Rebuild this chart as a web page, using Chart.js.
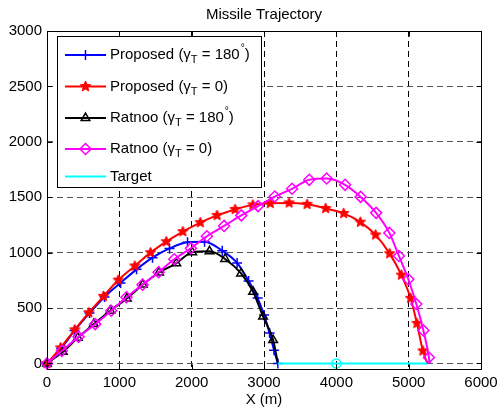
<!DOCTYPE html>
<html>
<head>
<meta charset="utf-8">
<script src="https://cdn.jsdelivr.net/npm/chart.js@4.4.0/dist/chart.umd.min.js"></script>
<style>
  body { margin: 0; background: #fff; }
  canvas { display: block; }
</style>
</head>
<body>
<canvas id="trajectory" width="498" height="413"></canvas>
<script>
// values, in metres
const xTicks = [0, 1000, 2000, 3000, 4000, 5000, 6000];
const yTicks = [0, 500, 1000, 1500, 2000, 2500, 3000];

const proposed180X = [0, 196, 380, 588, 795, 1017, 1238, 1459, 1694, 1943, 2178, 2423, 2628, 2787, 2912, 3001, 3077, 3139, 3192];
const proposed180Y = [0, 136, 297, 455, 600, 727, 849, 955, 1038, 1094, 1098, 1017, 907, 744, 590, 437, 274, 120, 0];

const proposed0X = [0, 187, 384, 578, 781, 985, 1214, 1431, 1649, 1878, 2119, 2351, 2600, 2846, 3087, 3347, 3596, 3852, 4101, 4332, 4543, 4737, 4899, 5027, 5114, 5197, 5258];
const proposed0Y = [0, 141, 304, 458, 606, 753, 880, 1000, 1099, 1190, 1271, 1336, 1390, 1431, 1445, 1449, 1436, 1399, 1354, 1275, 1160, 991, 798, 588, 362, 114, 0];

const ratnoo180X = [0, 219, 426, 647, 874, 1104, 1325, 1549, 1787, 2008, 2247, 2462, 2683, 2849, 2987, 3126, 3192];
const ratnoo180Y = [0, 105, 232, 355, 476, 586, 712, 821, 904, 1003, 1012, 943, 812, 647, 423, 211, 0];

const ratnoo0X = [0, 205, 436, 667, 888, 1099, 1321, 1542, 1759, 1989, 2210, 2448, 2686, 2918, 3149, 3388, 3626, 3866, 4121, 4336, 4550, 4733, 4865, 4995, 5106, 5203, 5280, 5290];
const ratnoo0Y = [0, 114, 240, 355, 476, 597, 711, 823, 940, 1040, 1148, 1241, 1336, 1420, 1506, 1576, 1657, 1669, 1612, 1503, 1359, 1178, 970, 760, 536, 298, 54, 0];

const targetX = [3192, 4000, 5258];
const targetY = [0, 0, 0];

const FONT = "'Liberation Sans', Arial, Helvetica, sans-serif";

function pts(xs, ys) {
  return xs.map((x, i) => ({ x: x, y: ys[i] }));
}

// filled pentagram, like matlab's 'p' marker
function makeStar(size, color) {
  const c = document.createElement('canvas');
  c.width = c.height = size;
  const g = c.getContext('2d');
  const R = size / 2 - 1, r = R * 0.45;
  g.beginPath();
  for (let i = 0; i < 10; i++) {
    const a = -Math.PI / 2 + i * Math.PI / 5;
    const d = i % 2 ? r : R;
    g.lineTo(size / 2 + d * Math.cos(a), size / 2 + d * Math.sin(a));
  }
  g.closePath();
  g.fillStyle = color;
  g.fill();
  g.strokeStyle = color;
  g.lineWidth = 1;
  g.stroke();
  return c;
}
const star = makeStar(13, '#ff0000');

// no marker on the last (impact) sample
const lastless = ctx => ctx.dataIndex === ctx.dataset.data.length - 1 ? 0 : 5;

const datasets = [
  {
    label: 'Proposed 180',
    data: pts(proposed180X, proposed180Y),
    borderColor: '#0000ff',
    backgroundColor: '#0000ff',
    pointStyle: 'cross',
    pointRadius: 5,
    order: 5
  },
  {
    label: 'Proposed 0',
    data: pts(proposed0X, proposed0Y),
    borderColor: '#ff0000',
    backgroundColor: '#ff0000',
    pointStyle: star,
    pointRadius: lastless,
    order: 4
  },
  {
    label: 'Ratnoo 180',
    data: pts(ratnoo180X, ratnoo180Y),
    borderColor: '#000000',
    backgroundColor: 'rgba(0,0,0,0)',
    pointStyle: 'triangle',
    pointRadius: lastless,
    order: 3
  },
  {
    label: 'Ratnoo 0',
    data: pts(ratnoo0X, ratnoo0Y),
    borderColor: '#ff00ff',
    backgroundColor: 'rgba(0,0,0,0)',
    pointStyle: 'rectRot',
    pointRadius: ctx => ctx.dataIndex === ctx.dataset.data.length - 1 ? 0 : 5.5,
    order: 2
  },
  {
    label: 'Target',
    data: pts(targetX, targetY),
    borderColor: '#00ffff',
    backgroundColor: 'rgba(0,0,0,0)',
    pointStyle: 'circle',
    pointRadius: ctx => ctx.dataIndex === 1 ? 4.5 : 0,
    order: 1
  }
];
datasets.forEach(d => {
  d.showLine = true;
  d.borderWidth = 2;
  d.pointBorderWidth = 1.5;
  d.pointBorderColor = d.borderColor;
  d.pointBackgroundColor = d.backgroundColor;
  d.cubicInterpolationMode = 'monotone';
  d.clip = false;
});

// legend text pieces: [text, 'sub' | 'sup' | undefined]
const legendText = [
  [['Proposed (γ'], ['T', 'sub'], [' = 180'], ['°', 'sup'], [')']],
  [['Proposed (γ'], ['T', 'sub'], [' = 0)']],
  [['Ratnoo (γ'], ['T', 'sub'], [' = 180'], ['°', 'sup'], [')']],
  [['Ratnoo (γ'], ['T', 'sub'], [' = 0)']],
  [['Target']]
];

const matlabFrame = {
  id: 'matlabFrame',
  afterDraw(chart) {
    const { ctx, chartArea: a, scales: { x, y } } = chart;
    const L = Math.round(a.left) + 0.5, R = Math.round(a.right) + 0.5;
    const T = Math.round(a.top) + 0.5, B = Math.round(a.bottom) + 0.5;
    ctx.save();
    ctx.strokeStyle = '#000';
    ctx.lineWidth = 1;
    ctx.setLineDash([]);
    ctx.beginPath();
    xTicks.forEach(v => {
      const px = Math.round(x.getPixelForValue(v)) + 0.5;
      ctx.moveTo(px, B); ctx.lineTo(px, B - 5);
      ctx.moveTo(px, T); ctx.lineTo(px, T + 5);
    });
    yTicks.forEach(v => {
      const py = Math.round(y.getPixelForValue(v)) + 0.5;
      ctx.moveTo(L, py); ctx.lineTo(L + 5, py);
      ctx.moveTo(R, py); ctx.lineTo(R - 5, py);
    });
    ctx.stroke();
    ctx.strokeRect(L, T, R - L, B - T);

    // legend box
    const bx = 57.5, by = 36.5, bw = 204, bh = 151;
    ctx.fillStyle = '#fff';
    ctx.fillRect(bx, by, bw, bh);
    ctx.strokeRect(bx, by, bw, bh);
    const rows = [55, 86.5, 118, 149, 176.5];
    legendText.forEach((parts, i) => {
      const ds = datasets[i];
      const ry = rows[i];
      ctx.strokeStyle = ds.borderColor;
      ctx.lineWidth = 2;
      ctx.beginPath();
      ctx.moveTo(65, ry); ctx.lineTo(106, ry);
      ctx.stroke();
      if (i < 4) {
        ctx.lineWidth = 1.5;
        ctx.fillStyle = ds.backgroundColor;
        Chart.helpers.drawPoint(ctx, {
          pointStyle: ds.pointStyle,
          radius: i === 3 ? 5.5 : 5,
          rotation: 0,
          borderWidth: 1.5
        }, 85.5, ry);
      }
      let tx = 110;
      ctx.fillStyle = '#000';
      ctx.textBaseline = 'middle';
      ctx.textAlign = 'left';
      parts.forEach(([t, kind]) => {
        let dy = 0;
        if (kind === 'sub') { ctx.font = '11px ' + FONT; dy = 5; }
        else if (kind === 'sup') { ctx.font = '10px ' + FONT; dy = -7; tx += 1; }
        else { ctx.font = '15px ' + FONT; }
        ctx.fillText(t, tx, ry + dy);
        tx += ctx.measureText(t).width;
      });
    });
    ctx.restore();
  }
};

new Chart(document.getElementById('trajectory'), {
  type: 'scatter',
  data: { datasets: datasets },
  options: {
    responsive: false,
    animation: false,
    events: [],
    devicePixelRatio: 1,
    layout: { padding: { top: 0, right: 17, bottom: 0, left: 0 } },
    plugins: {
      legend: { display: false },
      tooltip: { enabled: false },
      title: {
        display: true,
        text: 'Missile Trajectory',
        fullSize: false,
        color: '#000',
        font: { family: FONT, size: 15, weight: 'normal' },
        padding: { top: 6, bottom: 7 }
      }
    },
    scales: {
      x: {
        type: 'linear',
        min: 0,
        max: 6000,
        afterBuildTicks: s => { s.ticks = xTicks.map(v => ({ value: v })); },
        afterFit: s => { s.height = 44; s.paddingLeft = 0; s.paddingRight = 0; },
        grid: { color: '#000', lineWidth: 1, drawTicks: false },
        border: { display: false, dash: [6, 4] },
        ticks: {
          color: '#000',
          padding: 5,
          maxRotation: 0,
          font: { family: FONT, size: 15 },
          callback: v => String(v)
        },
        title: {
          display: true,
          text: 'X (m)',
          color: '#000',
          font: { family: FONT, size: 15 },
          padding: { top: 0, bottom: 4 }
        }
      },
      y: {
        type: 'linear',
        min: -50,
        max: 3000,
        afterBuildTicks: s => { s.ticks = yTicks.map(v => ({ value: v })); },
        afterFit: s => { s.width = 47; },
        grid: { color: '#555', lineWidth: 1, drawTicks: false },
        border: { display: false, dash: [6, 4] },
        ticks: {
          color: '#000',
          padding: 5,
          font: { family: FONT, size: 15 },
          callback: v => String(v)
        }
      }
    }
  },
  plugins: [matlabFrame]
});
</script>
</body>
</html>
